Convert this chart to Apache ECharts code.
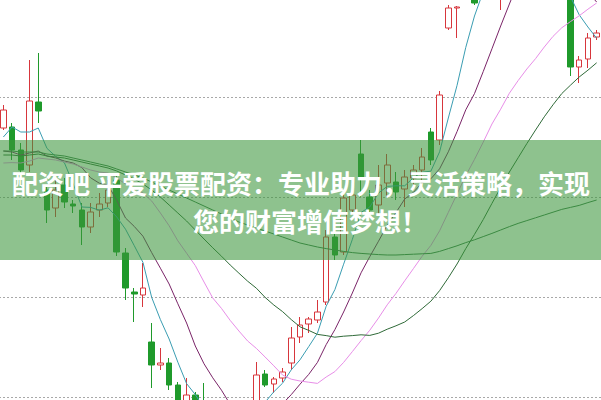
<!DOCTYPE html>
<html>
<head>
<meta charset="utf-8">
<script src="https://cdn.jsdelivr.net/npm/echarts@6/dist/echarts.min.js"></script>
<style>
html,body{margin:0;padding:0;background:#fff;}
#chart{width:601px;height:400px;}
</style>
</head>
<body>
<div id="chart"></div>
<script>
// candle index labels (dates are not shown in the picture)
var categories = ['1','2','3','4','5','6','7','8','9','10','11','12','13','14','15','16','17','18','19','20','21','22','23','24','25','26','27','28','29','30','31','32','33','34','35','36','37','38','39','40','41','42','43','44','45','46','47','48','49','50','51','52','53','54','55','56','57','58','59','60','61','62','63','64','65','66','67','68','69'];

// [open, close, low, high]
var candles = [
  [23.45,24.35,23.35,24.60],[23.50,22.35,21.85,23.70],[22.35,21.35,20.50,22.70],[21.60,24.80,21.25,26.85],
  [24.75,24.30,23.70,27.20],[20.35,19.35,18.70,20.50],[19.45,20.35,19.00,20.85],[20.60,19.75,19.45,20.95],
  [19.65,19.55,19.20,19.85],[19.35,18.50,17.60,19.70],[18.50,19.25,18.20,19.70],[19.35,19.65,19.00,20.20],
  [19.70,20.35,19.50,20.85],[20.85,17.25,17.05,21.10],[17.20,15.45,14.85,17.45],[15.25,15.15,13.75,15.45],
  [15.10,15.45,14.50,16.70],[12.75,11.60,10.45,13.70],[11.60,11.70,11.35,12.45],[11.70,10.60,10.35,11.95],
  [10.60,9.35,8.85,10.75],[9.60,10.10,9.10,10.95],[10.10,8.85,8.45,10.25],[9.60,8.35,7.95,10.70],
  [8.90,8.40,8.00,9.30],[8.50,9.00,8.20,9.30],[8.90,8.30,8.00,9.10],[8.40,9.10,8.20,9.40],
  [9.00,9.60,8.80,9.80],[9.60,11.10,9.35,11.75],[11.15,10.60,10.50,11.35],[10.65,10.90,10.20,11.00],
  [10.95,11.25,10.75,11.45],[11.70,12.95,11.35,13.50],[13.00,13.60,12.70,14.00],[13.65,13.90,13.20,14.00],
  [13.85,14.25,13.70,14.85],[14.75,18.00,14.60,18.35],[18.00,17.10,16.85,18.25],[17.25,19.95,17.10,20.35],
  [19.35,20.10,19.10,20.60],[22.15,21.00,20.00,22.85],[20.00,19.35,19.10,20.35],[19.60,20.60,19.10,21.60],
  [20.70,21.60,20.00,22.15],[20.75,20.25,19.85,21.25],[20.40,21.00,19.50,21.35],[20.95,21.35,20.35,21.60],
  [21.35,22.00,20.50,22.45],[23.25,21.85,21.60,23.45],[22.85,25.10,22.60,25.30],[28.45,29.45,28.35,29.60],
  [29.45,29.50,27.95,29.55],[30.20,31.50,30.00,31.90],[31.60,29.70,29.60,31.90],[30.00,31.20,29.95,31.60],
  [31.20,32.40,31.00,32.80],[31.40,32.80,29.35,33.20],[32.50,33.00,32.10,33.60],[33.30,32.60,32.30,33.90],
  [32.70,31.80,31.50,33.00],[31.90,31.40,31.00,32.20],[31.50,31.00,30.70,31.80],[30.80,31.00,30.50,31.50],
  [31.10,30.20,30.00,31.30],[30.30,26.50,26.05,30.60],[26.50,26.85,25.70,27.05],[26.90,27.95,26.45,28.20],
  [28.00,28.20,27.85,28.35]
];

var ma5 = [23.00,23.50,23.25,23.25,23.45,22.43,22.03,21.71,20.66,19.50,19.48,19.34,19.46,19.00,18.39,17.57,16.73,14.98,13.87,12.90,
  11.74,10.67,10.12,9.45,9.01,8.94,8.58,8.63,8.88,9.42,9.74,10.26,10.69,11.36,11.86,12.52,13.19,14.54,15.37,16.64,
  17.88,19.23,19.50,20.20,20.53,20.56,20.56,20.96,21.24,21.29,22.26,23.95,25.58,27.48,29.05,30.27,30.86,31.52,31.82,32.40,
  32.52,32.32,31.96,31.56,31.08,30.02,29.11,28.50,27.94];
var ma10 = [22.30,22.25,22.10,22.20,22.30,22.05,21.95,21.80,21.70,21.47,20.96,20.69,20.59,19.83,18.95,18.53,18.04,17.22,16.44,15.65,
  14.66,13.70,12.55,11.66,10.96,10.34,9.63,9.38,9.17,9.22,9.34,9.42,9.66,10.12,10.64,11.13,11.73,12.62,13.37,14.25,
  15.20,16.21,17.02,17.79,18.59,19.22,19.90,20.23,20.72,20.91,21.41,22.26,23.27,24.36,25.17,26.27,27.41,28.55,29.65,30.73,
  31.40,31.59,31.74,31.69,31.74,31.27,30.72,30.23,29.75];
var ma20 = [21.70,21.72,21.70,21.80,21.95,21.90,21.85,21.75,21.65,21.50,21.35,21.25,21.20,20.95,20.65,20.45,20.20,19.80,19.20,18.56,
  17.81,17.19,16.57,15.75,14.95,14.43,13.83,13.30,12.80,12.43,12.00,11.56,11.10,10.89,10.80,10.74,10.68,11.00,11.27,11.73,
  12.27,12.82,13.34,13.95,14.61,15.18,15.81,16.42,17.04,17.58,18.31,19.23,20.15,21.07,21.88,22.74,23.65,24.39,25.19,25.82,
  26.40,26.92,27.50,28.03,28.46,28.77,29.06,29.39,29.70];
var ma30 = [22.10,22.10,22.05,22.10,22.15,22.05,22.00,21.95,21.85,21.75,21.65,21.55,21.45,21.30,21.10,20.90,20.65,20.35,20.00,19.60,
  19.20,18.80,18.35,17.90,17.46,17.04,16.60,16.19,15.79,15.44,14.98,14.60,14.27,13.87,13.51,13.33,13.13,13.07,12.99,13.04,
  13.07,13.11,13.08,13.19,13.39,13.56,13.75,14.07,14.42,14.79,15.32,15.96,16.65,17.42,18.13,18.87,19.68,20.47,21.25,21.96,
  22.67,23.35,24.01,24.61,25.17,25.59,26.00,26.34,26.71];
var ma60 = [22.30,22.30,22.25,22.25,22.25,22.15,22.10,22.05,21.95,21.85,21.75,21.65,21.55,21.40,21.25,21.10,20.95,20.75,20.55,20.35,
  20.15,19.95,19.75,19.55,19.35,19.15,18.95,18.75,18.60,18.45,18.30,18.15,18.00,17.85,17.70,17.60,17.50,17.42,17.35,17.28,
  17.22,17.18,17.15,17.12,17.10,17.10,17.12,17.14,17.16,17.18,17.28,17.42,17.56,17.72,17.86,18.02,18.18,18.35,18.52,18.68,
  18.82,18.96,19.10,19.24,19.38,19.48,19.58,19.72,19.85];

var bannerLine1 = '配资吧 平爱股票配资：专业助力，灵活策略，实现';
var bannerLine2 = '您的财富增值梦想！';

var chart = echarts.init(document.getElementById('chart'), null, {renderer: 'svg'});

function maSeries(name, data, color) {
  return {
    name: name, type: 'line', data: data, showSymbol: false, symbol: 'none',
    smooth: false, silent: true, z: 3, clip: false,
    lineStyle: {width: 1, color: color}
  };
}

chart.setOption({
  animation: false,
  backgroundColor: '#ffffff',
  grid: {left: -1, right: 0, top: -3, bottom: 3, containLabel: false, outerBoundsMode: 'none'},
  xAxis: {
    type: 'category', data: categories, boundaryGap: true,
    axisLine: {show: false}, axisTick: {show: false}, axisLabel: {show: false},
    splitLine: {show: false}
  },
  yAxis: {
    type: 'value', min: 10, max: 30, interval: 5, scale: false,
    axisLine: {show: false}, axisTick: {show: false}, axisLabel: {show: false},
    splitLine: {show: true, lineStyle: {color: '#a8a8a8', width: 1, type: [2, 2]}}
  },
  series: [
    {
      name: 'K', type: 'candlestick', data: candles, barWidth: '70%', z: 2, clip: false,
      itemStyle: {
        color: '#ffffff', color0: '#1f9a2b',
        borderColor: '#d7363c', borderColor0: '#1f9a2b', borderWidth: 1
      }
    },
    maSeries('MA5', ma5, '#3a9db2'),
    maSeries('MA10', ma10, '#7a2468'),
    maSeries('MA20', ma20, '#e88ee8'),
    maSeries('MA30', ma30, '#2f6a38'),
    maSeries('MA60', ma60, '#3a7a4a')
  ],
  graphic: {
    elements: [
      {
        type: 'rect', z: 100, silent: true,
        shape: {x: 0, y: 140, width: 601, height: 120},
        style: {fill: 'rgba(60,150,60,0.58)'}
      },
      {
        type: 'text', z: 101, silent: true, x: 12, y: 182,
        style: {
          text: bannerLine1, fill: '#ffffff',
          font: 'bold 26px "Noto Sans CJK SC"',
          align: 'left', verticalAlign: 'middle'
        }
      },
      {
        type: 'text', z: 101, silent: true, x: 193, y: 220,
        style: {
          text: bannerLine2, fill: '#ffffff',
          font: 'bold 26px "Noto Sans CJK SC"',
          align: 'left', verticalAlign: 'middle'
        }
      }
    ]
  }
});
</script>
</body>
</html>
